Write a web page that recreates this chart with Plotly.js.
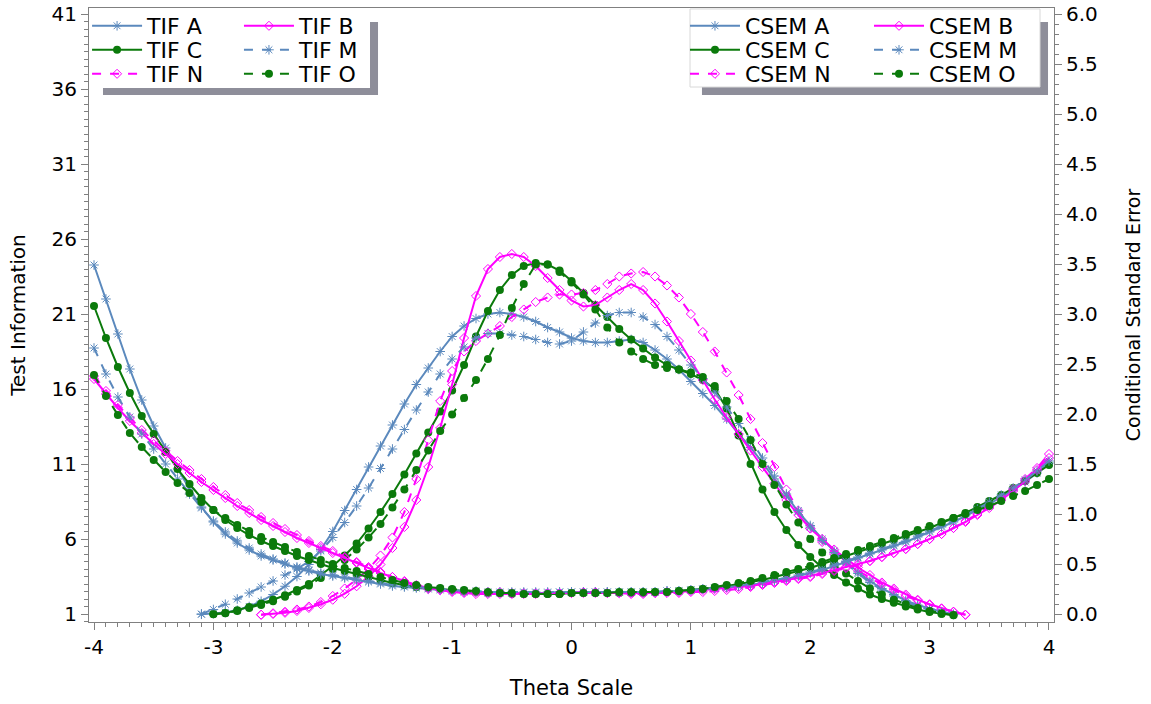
<!DOCTYPE html>
<html>
<head>
<meta charset="utf-8">
<script src="https://cdn.plot.ly/plotly-3.0.1.min.js"></script>
<style>html,body{margin:0;padding:0;background:#fff;}#chart{width:1151px;height:704px;}</style>
</head>
<body>
<div id="chart"></div>
<script>
// Theta grid (x values)
const THETA = [-4.0,-3.9,-3.8,-3.7,-3.6,-3.5,-3.4,-3.3,-3.2,-3.1,-3.0,-2.9,-2.8,-2.7,-2.6,-2.5,-2.4,-2.3,-2.2,-2.1,-2.0,-1.9,-1.8,-1.7,-1.6,-1.5,-1.4,-1.3,-1.2,-1.1,-1.0,-0.9,-0.8,-0.7,-0.6,-0.5,-0.4,-0.3,-0.2,-0.1,0.0,0.1,0.2,0.3,0.4,0.5,0.6,0.7,0.8,0.9,1.0,1.1,1.2,1.3,1.4,1.5,1.6,1.7,1.8,1.9,2.0,2.1,2.2,2.3,2.4,2.5,2.6,2.7,2.8,2.9,3.0,3.1,3.2,3.3,3.4,3.5,3.6,3.7,3.8,3.9,4.0];

// Test information functions (left axis)
const TIF_A = [null,null,null,null,null,null,null,null,null,
 0.98,1.02,1.1,1.25,1.5,1.85,2.3,2.85,3.5,4.3,5.3,6.5,7.9,9.3,10.8,12.2,13.6,15.0,16.3,17.4,18.5,19.5,20.2,20.7,21.0,21.1,21.0,20.8,20.5,20.1,19.8,
 19.4,19.2,19.1,19.1,19.2,19.3,19.1,18.6,18.0,17.3,16.5,15.7,14.9,14.0,13.0,12.1,11.1,10.0,8.9,7.8,6.9,6.0,5.2,4.5,3.8,3.2,2.7,2.3,1.9,1.6,1.35,1.15,0.98,
 null,null,null,null,null,null,null,null];
const TIF_M = [null,null,null,null,null,null,null,null,null,
 1.0,1.3,1.65,2.0,2.4,2.8,3.2,3.6,4.0,4.5,5.2,6.1,7.1,8.2,9.4,10.7,12.0,13.3,14.6,15.8,17.0,18.0,18.8,19.4,19.7,19.7,19.6,19.5,19.3,19.1,19.0,
 19.2,19.8,20.4,20.9,21.1,21.1,20.8,20.3,19.5,18.6,17.6,16.7,15.8,14.8,13.7,12.6,11.4,10.2,9.0,7.9,6.8,5.9,5.1,4.4,3.7,3.1,2.6,2.2,1.8,1.5,1.3,1.1,0.97,
 null,null,null,null,null,null,null,null];
const TIF_B = [null,null,null,null,null,null,null,null,null,null,null,null,null,null,
 0.95,1.0,1.08,1.2,1.4,1.65,1.95,2.35,2.85,3.5,4.3,5.4,6.8,8.6,10.8,13.4,16.3,19.4,22.2,24.0,24.8,25.0,24.8,24.2,23.4,22.6,
 21.9,21.5,21.6,22.1,22.6,23.0,22.6,21.7,20.5,19.2,17.9,16.6,15.3,14.1,13.0,11.9,10.8,9.7,8.6,7.6,6.7,6.0,5.3,4.7,4.1,3.6,3.1,2.7,2.3,1.95,1.65,1.38,1.15,0.95,
 null,null,null,null,null,null,null];
const TIF_N = [null,null,null,null,null,null,null,null,null,null,null,null,null,null,
 0.95,1.05,1.15,1.3,1.5,1.8,2.2,2.7,3.3,4.0,4.9,6.1,7.8,10.0,12.6,15.2,17.2,18.5,19.2,19.7,20.2,20.8,21.3,21.8,22.1,22.3,
 22.3,22.4,22.6,23.0,23.5,23.7,23.8,23.5,22.9,22.1,21.0,19.8,18.5,17.1,15.6,14.0,12.4,10.8,9.3,7.9,6.7,5.8,5.0,4.4,3.9,3.4,3.0,2.6,2.2,1.9,1.6,1.35,1.15,0.95,
 null,null,null,null,null,null,null];
const TIF_C = [null,null,null,null,null,null,null,null,null,null,
 1.0,1.07,1.25,1.47,1.7,1.95,2.25,2.6,3.0,3.6,4.2,4.9,5.7,6.7,7.8,9.0,10.3,11.7,13.1,14.5,15.9,17.6,19.5,21.2,22.6,23.6,24.2,24.4,24.3,23.9,
 23.2,22.4,21.6,20.8,20.0,19.3,18.7,18.1,17.6,17.3,17.0,16.6,16.0,14.7,12.9,11.0,9.3,7.8,6.6,5.6,4.8,4.1,3.6,3.1,2.7,2.3,2.0,1.75,1.5,1.3,1.13,1.0,0.92,
 null,null,null,null,null,null,null,null];
const TIF_O = [null,null,null,null,null,null,null,null,null,null,
 0.98,1.05,1.2,1.4,1.6,1.85,2.15,2.5,2.9,3.4,4.0,4.6,5.3,6.1,7.0,8.1,9.3,10.6,11.9,13.2,14.3,15.4,16.6,18.0,19.6,21.4,23.0,24.3,24.3,23.8,
 23.1,22.3,21.3,20.1,19.1,18.5,18.0,17.6,17.4,17.3,17.1,16.8,16.2,15.2,14.0,12.6,11.0,9.6,8.3,7.1,6.0,5.1,4.3,3.7,3.2,2.7,2.3,1.95,1.65,1.4,1.2,1.05,0.93,
 null,null,null,null,null,null,null,null];

// Conditional standard errors (right axis)
const CSEM_A = [3.49,3.15,2.8,2.45,2.14,1.88,1.66,1.45,1.25,1.07,0.92,0.8,0.71,0.64,0.58,0.54,0.5,0.46,0.43,0.4,0.38,0.36,0.34,0.32,0.3,0.28,0.27,0.26,0.25,0.24,0.23,0.22,0.22,0.21,0.21,0.21,0.21,0.21,0.21,0.22,
 0.22,0.22,0.22,0.22,0.22,0.22,0.22,0.22,0.23,0.23,0.24,0.25,0.26,0.27,0.28,0.29,0.31,0.33,0.35,0.38,0.41,0.44,0.48,0.52,0.56,0.6,0.64,0.68,0.72,0.77,0.82,0.87,0.92,0.98,1.04,1.1,1.17,1.24,1.32,1.41,1.51];
const CSEM_M = [2.66,2.4,2.17,1.97,1.8,1.65,1.5,1.35,1.2,1.06,0.93,0.82,0.73,0.66,0.6,0.55,0.51,0.47,0.44,0.41,0.39,0.37,0.35,0.33,0.31,0.29,0.28,0.27,0.26,0.25,0.24,0.23,0.23,0.22,0.22,0.22,0.22,0.22,0.22,0.22,
 0.22,0.22,0.22,0.22,0.22,0.22,0.22,0.22,0.23,0.23,0.24,0.25,0.26,0.27,0.28,0.3,0.32,0.34,0.36,0.39,0.42,0.45,0.49,0.53,0.57,0.61,0.65,0.69,0.73,0.78,0.83,0.88,0.93,0.99,1.05,1.12,1.19,1.26,1.34,1.43,1.53];
const CSEM_C = [3.08,2.76,2.47,2.21,1.98,1.8,1.62,1.45,1.3,1.16,1.04,0.94,0.86,0.79,0.73,0.68,0.63,0.58,0.54,0.5,0.46,0.43,0.4,0.37,0.34,0.31,0.29,0.27,0.26,0.25,0.24,0.23,0.22,0.21,0.21,0.2,0.2,0.2,0.2,0.2,
 0.21,0.21,0.21,0.21,0.21,0.21,0.21,0.22,0.22,0.23,0.24,0.25,0.26,0.28,0.3,0.32,0.34,0.37,0.4,0.43,0.46,0.5,0.54,0.58,0.62,0.66,0.7,0.74,0.78,0.82,0.86,0.91,0.96,1.01,1.07,1.13,1.19,1.26,1.33,1.41,1.49];
const CSEM_O = [2.39,2.18,1.99,1.81,1.67,1.54,1.42,1.31,1.21,1.12,1.04,0.96,0.89,0.83,0.77,0.72,0.67,0.62,0.58,0.54,0.5,0.46,0.43,0.4,0.37,0.34,0.31,0.29,0.27,0.26,0.25,0.24,0.23,0.22,0.21,0.21,0.2,0.2,0.2,0.2,
 0.21,0.21,0.21,0.21,0.22,0.22,0.22,0.22,0.22,0.23,0.24,0.25,0.27,0.29,0.31,0.33,0.36,0.39,0.42,0.45,0.48,0.52,0.56,0.6,0.64,0.68,0.72,0.76,0.8,0.84,0.88,0.92,0.96,1.0,1.04,1.08,1.13,1.18,1.23,1.29,1.35];
const CSEM_B = [2.35,2.2,2.06,1.93,1.81,1.7,1.6,1.5,1.41,1.32,1.24,1.16,1.08,1.01,0.94,0.88,0.82,0.76,0.71,0.66,0.61,0.56,0.51,0.46,0.41,0.37,0.33,0.29,0.26,0.24,0.22,0.21,0.2,0.2,0.2,0.2,0.2,0.2,0.21,0.21,
 0.21,0.22,0.22,0.21,0.21,0.21,0.21,0.21,0.22,0.22,0.23,0.24,0.25,0.26,0.27,0.28,0.3,0.32,0.34,0.36,0.38,0.41,0.44,0.47,0.5,0.53,0.57,0.61,0.65,0.7,0.75,0.8,0.86,0.92,0.99,1.06,1.14,1.23,1.33,1.44,1.56];
const CSEM_N = [2.38,2.23,2.09,1.96,1.84,1.73,1.63,1.53,1.44,1.35,1.27,1.19,1.11,1.04,0.97,0.91,0.85,0.79,0.73,0.68,0.63,0.57,0.52,0.47,0.42,0.37,0.32,0.28,0.25,0.24,0.23,0.22,0.22,0.22,0.22,0.21,0.21,0.21,0.21,0.21,
 0.21,0.21,0.21,0.21,0.21,0.2,0.2,0.21,0.21,0.21,0.22,0.22,0.23,0.24,0.25,0.27,0.29,0.31,0.33,0.35,0.37,0.4,0.43,0.46,0.49,0.53,0.57,0.61,0.65,0.7,0.75,0.8,0.86,0.93,1.0,1.08,1.16,1.25,1.35,1.46,1.6];

const LEFT_TICKS = [1,6,11,16,21,26,31,36,41];
const RIGHT_TICKS = [0.0,0.5,1.0,1.5,2.0,2.5,3.0,3.5,4.0,4.5,5.0,5.5,6.0];
const X_TICKS = [-4,-3,-2,-1,0,1,2,3,4];

const BLUE = '#5b89bd', GREEN = '#0b7a0b', MAG = '#ff00ff';
const FONT = '"DejaVu Sans", Verdana, sans-serif';

function style(kind){
  if(kind==='blue') return {color:BLUE, marker:{symbol:'asterisk-open', size:8, color:BLUE, line:{color:BLUE, width:1}}};
  if(kind==='green') return {color:GREEN, marker:{symbol:'circle', size:8, color:GREEN}};
  return {color:MAG, marker:{symbol:'diamond-open', size:7, color:MAG, line:{color:MAG, width:1}}};
}
function tr(name, y, kind, dash, axis, legend){
  const s = style(kind);
  return {x:THETA, y:y, name:name, type:'scatter', mode:'lines+markers',
    line:{color:s.color, width:2, dash:dash?'dash':'solid'}, marker:s.marker,
    yaxis:axis, legend:legend, connectgaps:false, hoverinfo:'skip'};
}

const data = [
  tr('TIF A', TIF_A, 'blue', false, 'y', 'legend'),
  tr('TIF C', TIF_C, 'green', false, 'y', 'legend2'),
  tr('TIF N', TIF_N, 'mag', true, 'y', 'legend3'),
  tr('TIF B', TIF_B, 'mag', false, 'y', 'legend4'),
  tr('TIF M', TIF_M, 'blue', true, 'y', 'legend5'),
  tr('TIF O', TIF_O, 'green', true, 'y', 'legend6'),
  tr('CSEM A', CSEM_A, 'blue', false, 'y2', 'legend7'),
  tr('CSEM C', CSEM_C, 'green', false, 'y2', 'legend8'),
  tr('CSEM N', CSEM_N, 'mag', true, 'y2', 'legend9'),
  tr('CSEM B', CSEM_B, 'mag', false, 'y2', 'legend10'),
  tr('CSEM M', CSEM_M, 'blue', true, 'y2', 'legend11'),
  tr('CSEM O', CSEM_O, 'green', true, 'y2', 'legend12')
];

const AX = '#808080';
// legend anchor positions (paper coordinates)
const COLS = [-0.002, 0.1554, 0.6176, 0.8083];
const ROWS = [0.9707, 0.9316, 0.8925];
function leg(x, y){
  return {x:x, y:y, xanchor:'left', yanchor:'middle', bgcolor:'rgba(0,0,0,0)', borderwidth:0,
    font:{family:FONT, size:22, color:'#000'}, itemwidth:50, tracegroupgap:0, orientation:'v'};
}
const SHADOW = '#8e8e9a';
const layout = {
  width:1151, height:704,
  margin:{l:89, r:97, t:8, b:82, autoexpand:false},
  paper_bgcolor:'#fff', plot_bgcolor:'#fff',
  font:{family:FONT, color:'#000'},
  showlegend:true,
  xaxis:{range:[-4.042,4.042], tickmode:'array', tickvals:X_TICKS, ticktext:X_TICKS.map(String),
    ticks:'outside', ticklen:7, tickcolor:AX, showline:true, linecolor:AX, mirror:true, showgrid:false, zeroline:false,
    minor:{dtick:0.1, tick0:0, ticks:'outside', ticklen:4, tickcolor:AX, showgrid:false},
    tickfont:{size:20, family:FONT}, title:{text:'Theta Scale', font:{size:21, family:FONT}, standoff:22}},
  yaxis:{range:[0.467,41.4], tickmode:'array', tickvals:LEFT_TICKS, ticktext:LEFT_TICKS.map(String),
    ticks:'outside', ticklen:7, tickcolor:AX, showline:true, linecolor:AX, showgrid:false, zeroline:false,
    minor:{dtick:0.5, tick0:1, ticks:'outside', ticklen:4, tickcolor:AX, showgrid:false},
    tickfont:{size:20, family:FONT}, title:{text:'Test Information', font:{size:20, family:FONT}, standoff:20}},
  yaxis2:{range:[-0.08,6.06], overlaying:'y', side:'right', tickmode:'array', tickvals:RIGHT_TICKS, ticktext:RIGHT_TICKS.map(v=>v.toFixed(1)),
    ticks:'outside', ticklen:7, tickcolor:AX, showline:true, linecolor:AX, showgrid:false, zeroline:false,
    minor:{dtick:0.1, tick0:0, ticks:'outside', ticklen:4, tickcolor:AX, showgrid:false},
    tickfont:{size:20, family:FONT}, title:{text:'Conditional Standard Error', font:{size:19, family:FONT}, standoff:29}},
  legend:leg(COLS[0], ROWS[0]),
  legend2:leg(COLS[0], ROWS[1]),
  legend3:leg(COLS[0], ROWS[2]),
  legend4:leg(COLS[1], ROWS[0]),
  legend5:leg(COLS[1], ROWS[1]),
  legend6:leg(COLS[1], ROWS[2]),
  legend7:leg(COLS[2], ROWS[0]),
  legend8:leg(COLS[2], ROWS[1]),
  legend9:leg(COLS[2], ROWS[2]),
  legend10:leg(COLS[3], ROWS[0]),
  legend11:leg(COLS[3], ROWS[1]),
  legend12:leg(COLS[3], ROWS[2]),
  shapes:[
    {type:'rect', xref:'paper', yref:'paper', x0:0.0145, x1:0.2995, y0:0.8583, y1:0.9772, fillcolor:SHADOW, line:{width:0}, layer:'above'},
    {type:'rect', xref:'paper', yref:'paper', x0:0.001, x1:0.2912, y0:0.8697, y1:0.9984, fillcolor:'#fff', line:{width:0}, layer:'above'},
    {type:'rect', xref:'paper', yref:'paper', x0:0.6352, x1:0.9938, y0:0.8583, y1:0.9772, fillcolor:SHADOW, line:{width:0}, layer:'above'},
    {type:'rect', xref:'paper', yref:'paper', x0:0.6228, x1:0.9855, y0:0.8713, y1:0.9984, fillcolor:'#fff', line:{color:'#d8d8d8', width:1}, layer:'above'}
  ]
};
Plotly.newPlot('chart', data, layout, {displayModeBar:false, staticPlot:true});
</script>
</body>
</html>
